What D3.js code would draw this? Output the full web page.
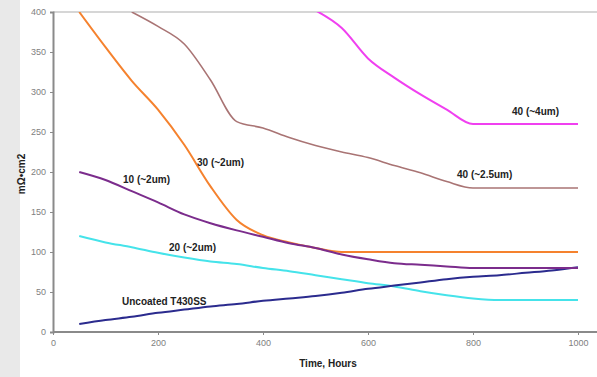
<!DOCTYPE html>
<html>
<head>
<meta charset="utf-8">
<script src="https://cdn.jsdelivr.net/npm/d3@7"></script>
<style>
  html, body { margin: 0; padding: 0; background: #fff; }
  svg { display: block; }
</style>
</head>
<body>
<div id="chart"></div>
<script>
// hours
const hours = [50, 100, 150, 200, 250, 300, 350, 400, 450, 500, 550, 600, 650, 700, 750, 800, 850, 900, 950, 1000];

// resistance, mΩ·cm2 (null = no reading)
const uncoated = [10, 15, 19, 24, 28, 32, 35, 39, 42, 45, 49, 54, 58, 62, 66, 69, 71, 74, 77, 81];
const c10 = [200, 190, 176, 162, 147, 136, 127, 119, 111, 105, 97, 91, 86, 84, 82, 80, 80, 80, 80, 80];
const c20 = [120, 112, 106, 99, 93, 88, 85, 80, 76, 71, 66, 61, 57, 51, 46, 42, 40, 40, 40, 40];
const c30 = [400, 356, 314, 278, 234, 182, 140, 121, 112, 105, 100, 100, 100, 100, 100, 100, 100, 100, 100, 100];
const c40thin = [null, null, 400, 382, 360, 315, 263, 255, 243, 233, 225, 218, 208, 199, 188, 180, 180, 180, 180, 180];
const c40thick = [null, null, null, null, null, null, null, null, null, 402, 380, 342, 318, 297, 278, 260, 260, 260, 260, 260];

const xTicks = [0, 200, 400, 600, 800, 1000];
const yTicks = [0, 50, 100, 150, 200, 250, 300, 350, 400];

const series = [
  { name: "40 (~2.5um)", values: c40thin, color: "#a97474", width: 1.6, lx: 457, ly: 178 },
  { name: "40 (~4um)", values: c40thick, color: "#f040f0", width: 2, lx: 512, ly: 115 },
  { name: "20 (~2um)", values: c20, color: "#45e3ea", width: 2, lx: 169, ly: 251 },
  { name: "Uncoated T430SS", values: uncoated, color: "#2b2b8e", width: 2, lx: 122, ly: 305 },
  { name: "30 (~2um)", values: c30, color: "#f5822e", width: 2, lx: 197, ly: 166 },
  { name: "10 (~2um)", values: c10, color: "#7b2c8c", width: 2, lx: 123, ly: 183 }
];

const W = 597, H = 377;
const margin = { left: 53, right: 19, top: 12, bottom: 45 };

const svg = d3.select("#chart").append("svg")
  .attr("width", W).attr("height", H)
  .style("font-family", "'Liberation Sans', Arial, sans-serif");

// 左侧灰条
svg.append("rect").attr("x", 0).attr("y", 0).attr("width", 20).attr("height", H).attr("fill", "#e9e9e9");

const x = d3.scaleLinear().domain([0, 1000]).range([margin.left, W - margin.right]);
const y = d3.scaleLinear().domain([0, 400]).range([H - margin.bottom, margin.top]);

svg.append("defs").append("clipPath").attr("id", "plot")
  .append("rect")
  .attr("x", margin.left).attr("y", margin.top)
  .attr("width", W - margin.left).attr("height", y(0) - margin.top);

// top border
svg.append("line")
  .attr("x1", margin.left).attr("x2", W)
  .attr("y1", y(400)).attr("y2", y(400))
  .attr("stroke", "#c8c8c8").attr("stroke-width", 1.5);

// axes
const xAxis = svg.append("g")
  .attr("transform", `translate(0,${y(0)})`)
  .call(d3.axisBottom(x).tickValues(xTicks).tickFormat(d3.format("d")).tickSize(3).tickPadding(5));
xAxis.select(".domain").attr("d", `M${margin.left},0H${W}`);

const yAxis = svg.append("g")
  .attr("transform", `translate(${margin.left},0)`)
  .call(d3.axisLeft(y).tickValues(yTicks).tickSize(3).tickPadding(4));

[xAxis, yAxis].forEach(g => {
  g.select(".domain").attr("stroke", "#8a8a8a").attr("stroke-width", 2);
  g.selectAll(".tick line").attr("stroke", "#8a8a8a");
  g.selectAll(".tick text").attr("fill", "#808080").attr("font-size", 9);
});

// lines
const line = d3.line()
  .defined(d => d[1] != null)
  .x(d => x(d[0]))
  .y(d => y(d[1]))
  .curve(d3.curveMonotoneX);

const plot = svg.append("g").attr("clip-path", "url(#plot)");
series.forEach(s => {
  plot.append("path")
    .datum(hours.map((h, i) => [h, s.values[i]]))
    .attr("fill", "none")
    .attr("stroke", s.color)
    .attr("stroke-width", s.width)
    .attr("stroke-linejoin", "round")
    .attr("d", line);
});

// labels
series.forEach(s => {
  svg.append("text")
    .attr("x", s.lx).attr("y", s.ly)
    .attr("font-size", 10).attr("font-weight", "bold")
    .attr("fill", "#222")
    .text(s.name);
});

svg.append("text")
  .attr("x", 328).attr("y", 367)
  .attr("text-anchor", "middle")
  .attr("font-size", 10).attr("font-weight", "bold").attr("fill", "#222")
  .text("Time, Hours");

svg.append("text")
  .attr("transform", `translate(25,174) rotate(-90)`)
  .attr("text-anchor", "middle")
  .attr("font-size", 10).attr("font-weight", "bold").attr("fill", "#222")
  .text("mΩ•cm2");
</script>
</body>
</html>
